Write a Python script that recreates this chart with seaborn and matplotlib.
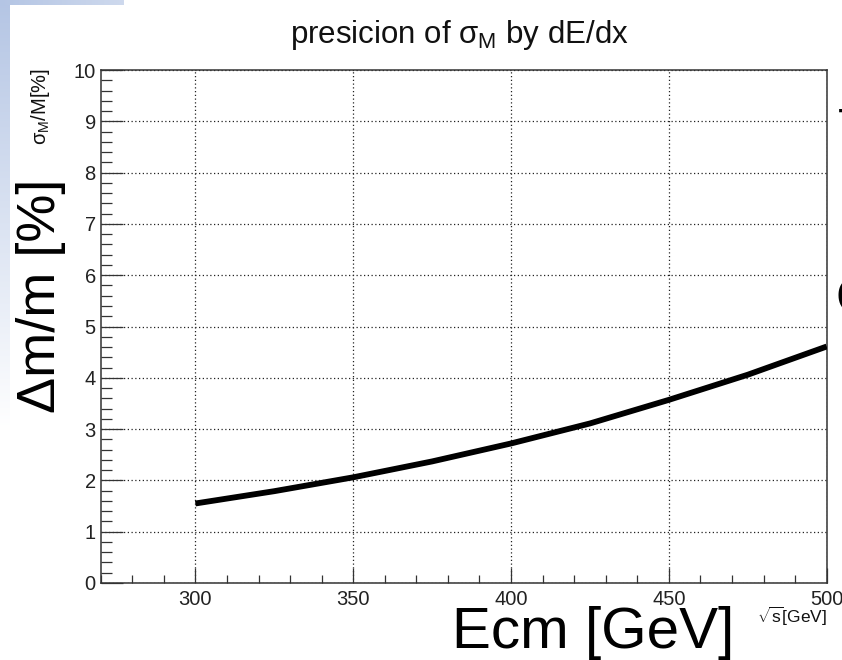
import numpy as np
import pandas as pd
import matplotlib
matplotlib.use("Agg")
import matplotlib.pyplot as plt
from matplotlib.ticker import MultipleLocator
import seaborn as sns

# ---- data ----
ecm = [300, 325, 350, 375, 400, 425, 450, 475, 500]
sigma_m = [1.55, 1.79, 2.06, 2.37, 2.72, 3.11, 3.57, 4.06, 4.61]
x_ticks = [300, 350, 400, 450, 500]
y_ticks = [0, 1, 2, 3, 4, 5, 6, 7, 8, 9, 10]

title = r"presicion of $\sigma_{M}$ by dE/dx"
ylab_small = r"$\sigma_{M}$/M[%]"
xlab_small = r"$\sqrt{s}$[GeV]"
ylab_big = "Δm/m [%]"
xlab_big = "Ecm [GeV]"

sns.set_theme(style="white")
plt.rcParams["font.family"] = ["Liberation Sans", "DejaVu Sans"]
plt.rcParams["mathtext.fontset"] = "custom"
plt.rcParams["mathtext.rm"] = "Liberation Sans"
plt.rcParams["mathtext.it"] = "Liberation Sans"
plt.rcParams["mathtext.bf"] = "Liberation Sans:bold"

W, H = 842, 660
fig = plt.figure(figsize=(W / 100, H / 100), dpi=100, facecolor="white")

# background (slide decoration)
img = np.ones((H, W, 3))
blue = np.array([180, 197, 228]) / 255.0
fade = np.clip(1 - np.arange(H) / 430.0, 0, 1)[:, None]
col = (1 - fade) * 1.0 + fade * blue[None, :]
img[:, 0:10, :] = col[:, None, :]
for xx in range(0, 124):
    t = xx / 124 * 0.35
    img[0:5, xx, :] = (1 - t) * blue + t * np.array([1, 1, 1])
bg = fig.add_axes([0, 0, 1, 1], zorder=-5)
bg.imshow(img, aspect="auto", extent=[0, W, H, 0], interpolation="bilinear")
bg.axis("off")

L, R, T, B = 100.7, 826.7, 70, 583
ax = fig.add_axes([L / W, 1 - B / H, (R - L) / W, (B - T) / H], zorder=1)
ax.set_facecolor("white")

df = pd.DataFrame({"ecm": ecm, "sigma": sigma_m})
sns.lineplot(data=df, x="ecm", y="sigma", ax=ax, color="black", linewidth=4.2,
             solid_capstyle="butt", zorder=3)

ax.set_xlim(270, 500)
ax.set_ylim(0, 10)
ax.set_xticks(x_ticks)
ax.set_yticks(y_ticks)
ax.xaxis.set_minor_locator(MultipleLocator(10))
ax.yaxis.set_minor_locator(MultipleLocator(0.2))
ax.set_xlabel("")
ax.set_ylabel("")

spine_c = "#333333"
for s in ax.spines.values():
    s.set_color(spine_c)
    s.set_linewidth(1.1)
    s.set_visible(True)

ax.tick_params(axis="x", which="major", direction="in", length=11, width=0.9,
               color=spine_c, labelsize=14.5, pad=5, labelcolor="#222222")
ax.tick_params(axis="x", which="minor", direction="in", length=5.5, width=0.9,
               color=spine_c)
ax.tick_params(axis="y", which="major", direction="in", length=16, width=0.9,
               color=spine_c, labelsize=14.5, pad=3.5, labelcolor="#222222")
ax.tick_params(axis="y", which="minor", direction="in", length=8, width=0.9,
               color=spine_c)
ax.tick_params(bottom=True, left=True, top=False, right=False, which="both")

ax.grid(True, which="major", linestyle=(0, (1, 2.0)), linewidth=0.9, color="#222222")
ax.set_axisbelow(True)

def fx(px):
    return px / W

def fy(py):
    return 1 - py / H

fig.text(fx(459), fy(35), title, ha="center", va="center", fontsize=22.5, color="#111111")
fig.text(fx(40), fy(68), ylab_small, rotation=90, ha="center", va="top",
         fontsize=14.5, color="#111111")
fig.text(fx(827), fy(605), xlab_small, ha="right", va="top", fontsize=12.5,
         color="#111111")
fig.text(fx(41), fy(296), ylab_big, rotation=90, ha="center", va="center",
         fontsize=39, color="black")
fig.text(fx(593), fy(633), xlab_big, ha="center", va="center",
         fontsize=42, color="black")

# clipped slide text at right edge
fig.text(fx(838), fy(144), "T", ha="left", va="baseline", fontsize=36, color="black")
fig.text(fx(837.5), fy(203), "P", ha="left", va="baseline", fontsize=36, color="#888888")
fig.text(fx(836), fy(313), "C", ha="left", va="baseline", fontsize=36, color="black")

fig.savefig("out.png", dpi=100, facecolor="white")
